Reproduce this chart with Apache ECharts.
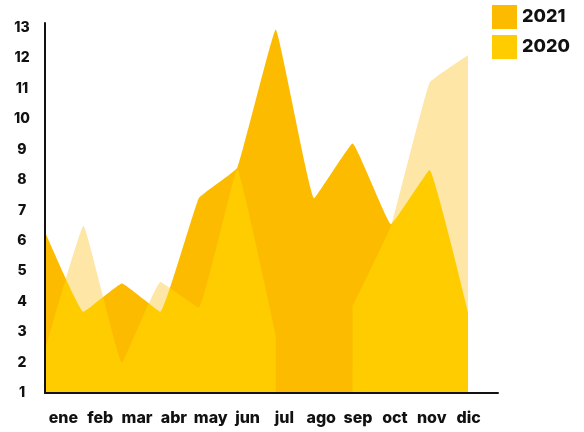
<!DOCTYPE html>
<html>
<head>
<meta charset="utf-8">
<script src="https://cdn.jsdelivr.net/npm/echarts@6/dist/echarts.min.js"></script>
<style>
  html, body { margin: 0; padding: 0; background: #ffffff; }
  #chart { width: 584px; height: 432px; }
</style>
</head>
<body>
<div id="chart"></div>
<script>
// ---- data ----
const months = ['ene', 'feb', 'mar', 'abr', 'may', 'jun', 'jul', 'ago', 'sep', 'oct', 'nov', 'dic'];
const values2021 = [6.3, 3.67, 4.6, 3.67, 7.4, 8.4, 12.95, 7.4, 9.2, 6.55, 8.33, 3.67];
const values2020 = [2.4, 6.5, 2.0, 4.65, 3.8, 8.35, 2.9, null, 3.85, 6.5, 11.2, 12.1];
const yTicks = [1, 2, 3, 4, 5, 6, 7, 8, 9, 10, 11, 12, 13];

// ---- styles ----
const ORANGE = '#FDBB00';
const YELLOW = '#FFCC00';
const PALE = '#FEE6A6';
const INK = '#111111';
const FONT = 'Inter';
const SMOOTH = 0.08;

const toPairs = arr => arr.map((v, i) => [i, v]);

const chart = echarts.init(document.getElementById('chart'), null, { renderer: 'canvas' });

const option = {
  animation: false,
  grid: [
    { left: 45, right: 86, top: 23, bottom: 39 },
    { left: 45, right: 97, top: 23, bottom: 39 }
  ],
  legend: {
    orient: 'vertical',
    left: 492,
    top: 5,
    padding: 0,
    itemWidth: 25,
    itemHeight: 24,
    itemGap: 6,
    icon: 'rect',
    z: 10,
    textStyle: { fontFamily: FONT, fontWeight: 800, fontSize: 18, color: INK },
    data: [
      { name: '2021', itemStyle: { color: ORANGE, opacity: 1, borderWidth: 0 } },
      { name: '2020', itemStyle: { color: YELLOW, opacity: 1, borderWidth: 0 } }
    ]
  },
  xAxis: [
    {
      type: 'value', gridIndex: 0, min: 0, max: 11.78, z: 10,
      axisLine: { show: true, lineStyle: { color: INK, width: 2 } },
      axisTick: { show: false }, axisLabel: { show: false }, splitLine: { show: false }
    },
    {
      type: 'category', gridIndex: 1, data: months, boundaryGap: true, z: 10,
      axisLine: { show: false }, axisTick: { show: false }, splitLine: { show: false },
      axisLabel: { fontFamily: FONT, fontWeight: 800, fontSize: 16, color: INK, margin: 17, interval: 0 }
    }
  ],
  yAxis: [
    {
      type: 'value', gridIndex: 0, min: yTicks[0], max: 13.16, interval: 1, z: 10,
      axisLine: { show: true, lineStyle: { color: INK, width: 2 } },
      axisTick: { show: false }, splitLine: { show: false },
      axisLabel: {
        fontFamily: FONT, fontWeight: 800, fontSize: 14, color: INK,
        align: 'center', margin: 23, showMaxLabel: false,
        formatter: v => (yTicks.indexOf(v) >= 0 ? String(v) : '')
      }
    },
    { type: 'value', gridIndex: 1, show: false, min: 1, max: 13.16 }
  ],
  series: [
    {
      name: '2021', type: 'line', xAxisIndex: 0, yAxisIndex: 0, z: 2,
      data: toPairs(values2021), symbol: 'none', showSymbol: false, smooth: SMOOTH,
      color: ORANGE,
      lineStyle: { width: 0, opacity: 0 },
      areaStyle: { color: ORANGE, opacity: 1, origin: 'start' }
    },
    {
      // overlap of 2020 on 2021: painted only where 2021 already is
      name: '2020', type: 'line', xAxisIndex: 0, yAxisIndex: 0, z: 3,
      data: toPairs(values2020), symbol: 'none', showSymbol: false, connectNulls: false, smooth: SMOOTH,
      color: YELLOW, blendMode: 'source-atop',
      lineStyle: { width: 0, opacity: 0 },
      areaStyle: { color: YELLOW, opacity: 1, origin: 'start' }
    },
    {
      // 2020 where it stands alone: painted behind everything drawn so far
      name: '2020', type: 'line', xAxisIndex: 0, yAxisIndex: 0, z: 4,
      data: toPairs(values2020), symbol: 'none', showSymbol: false, connectNulls: false, smooth: SMOOTH,
      color: PALE, blendMode: 'destination-over',
      lineStyle: { width: 0, opacity: 0 },
      areaStyle: { color: PALE, opacity: 1, origin: 'start' }
    }
  ]
};

chart.setOption(option);
</script>
</body>
</html>
